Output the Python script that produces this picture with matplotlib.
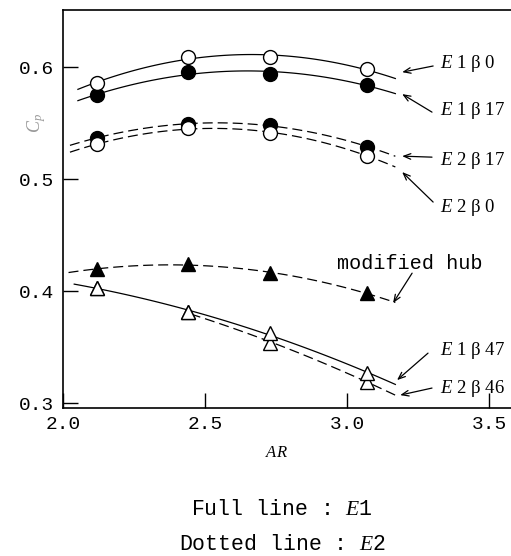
import numpy as np
import matplotlib
matplotlib.use("Agg")
from matplotlib import pyplot as plt

plt.rcParams['mathtext.fontset'] = 'custom'
plt.rcParams['mathtext.rm'] = 'Liberation Serif'
plt.rcParams['mathtext.it'] = 'Liberation Serif:italic'

# aspect ratio positions of the four test models
ar = [2.12, 2.44, 2.73, 3.07]

# power coefficient Cp
cp_e1b0 = [0.586, 0.609, 0.609, 0.598]
cp_e1b17 = [0.575, 0.5955, 0.594, 0.584]
cp_e2b17 = [0.537, 0.549, 0.548, 0.529]
cp_e2b0 = [0.531, 0.5455, 0.541, 0.521]
cp_hub = [0.4196, 0.424, 0.416, 0.398]
cp_e1b47 = [0.403, 0.381, 0.3625, 0.327]
cp_e2b46 = [0.403, 0.381, 0.354, 0.319]

xticks = [2.0, 2.5, 3.0, 3.5]
yticks = [0.3, 0.4, 0.5, 0.6]

fig = plt.figure(figsize=(5.11, 5.56), dpi=100)
ax = fig.add_axes([0.123, 0.266, 0.877, 0.716])
ax.set_xlim(2.0, 3.577)
ax.set_ylim(0.2955, 0.651)

dash = (8, 4)


def trend(y, x0, x1, ls):
    c = np.polyfit(ar, y, 2)
    xs = np.linspace(x0, x1, 100)
    line, = ax.plot(xs, np.polyval(c, xs), color='black', lw=0.9, zorder=2)
    if ls == 'dash':
        line.set_dashes(dash)


def pts(y, marker, filled):
    ax.plot(ar, y, marker, ms=10, mec='black', mew=1.0,
            mfc='black' if filled else 'white', ls='none', zorder=4)


# full lines : E1
trend(cp_e1b0, 2.053, 3.17, 'solid')
trend(cp_e1b17, 2.053, 3.17, 'solid')
trend(cp_e1b47, 2.04, 3.17, 'solid')
# dotted lines : E2
trend(cp_e2b17, 2.025, 3.17, 'dash')
trend(cp_e2b0, 2.025, 3.17, 'dash')
trend(cp_hub, 2.02, 3.17, 'dash')
trend(cp_e2b46, 2.45, 3.185, 'dash')

pts(cp_e1b17, 'o', True)
pts(cp_e1b0, 'o', False)
pts(cp_e2b17, 'o', True)
pts(cp_e2b0, 'o', False)
pts(cp_hub, '^', True)
pts(cp_e2b46, '^', False)
pts(cp_e1b47, '^', False)

# labels with arrows
labels = [
    (r'$E$ 1 β 0', (3.327, 0.603), (3.303, 0.601), (3.194, 0.5955)),
    (r'$E$ 1 β 17', (3.327, 0.5616), (3.299, 0.5598), (3.194, 0.5759)),
    (r'$E$ 2 β 17', (3.327, 0.517), (3.299, 0.5196), (3.194, 0.5205)),
    (r'$E$ 2 β 0', (3.327, 0.475), (3.303, 0.4795), (3.194, 0.5063)),
    (r'$E$ 1 β 47', (3.327, 0.3473), (3.285, 0.3446), (3.176, 0.3205)),
    (r'$E$ 2 β 46', (3.327, 0.3134), (3.299, 0.3134), (3.187, 0.3071)),
]
for txt, pos, tail, tip in labels:
    ax.text(pos[0], pos[1], txt, ha='left', va='center', fontsize=13.5,
            family='Liberation Serif', clip_on=False)
    ax.annotate('', xy=tip, xytext=tail,
                arrowprops=dict(arrowstyle='->,head_length=0.5,head_width=0.2',
                                lw=0.9, color='black', shrinkA=0, shrinkB=0))

ax.text(2.965, 0.425, 'modified hub', ha='left', va='center', fontsize=14.5,
        family='Liberation Mono', clip_on=False)
ax.annotate('', xy=(3.162, 0.3893), xytext=(3.229, 0.416),
            arrowprops=dict(arrowstyle='->,head_length=0.5,head_width=0.2',
                            lw=0.9, color='black', shrinkA=0, shrinkB=0))

# axes styling
ax.spines['right'].set_visible(False)
for s in ['left', 'bottom', 'top']:
    ax.spines[s].set_linewidth(1.2)
ax.set_xticks(xticks)
ax.set_yticks(yticks)
ax.set_xticklabels(['%.1f' % v for v in xticks])
ax.set_yticklabels(['%.1f' % v for v in yticks])
ax.tick_params(direction='in', length=11, width=1.0, pad=6,
               labelsize=14)
for lab in ax.get_xticklabels() + ax.get_yticklabels():
    lab.set_family('Liberation Mono')

fig.text(0.542, 0.187, r'$AR$', ha='center', va='center', fontsize=12)
fig.text(0.072, 0.779, r'$C_p$', ha='center', va='center', fontsize=13,
         rotation=90, color='#999999')

fig.text(0.552, 0.083, r'Full line : $E$1', ha='center', va='center',
         fontsize=15.5, family='Liberation Mono')
fig.text(0.552, 0.02, r'Dotted line : $E$2', ha='center', va='center',
         fontsize=15.5, family='Liberation Mono')

fig.savefig('out.png', dpi=100)
